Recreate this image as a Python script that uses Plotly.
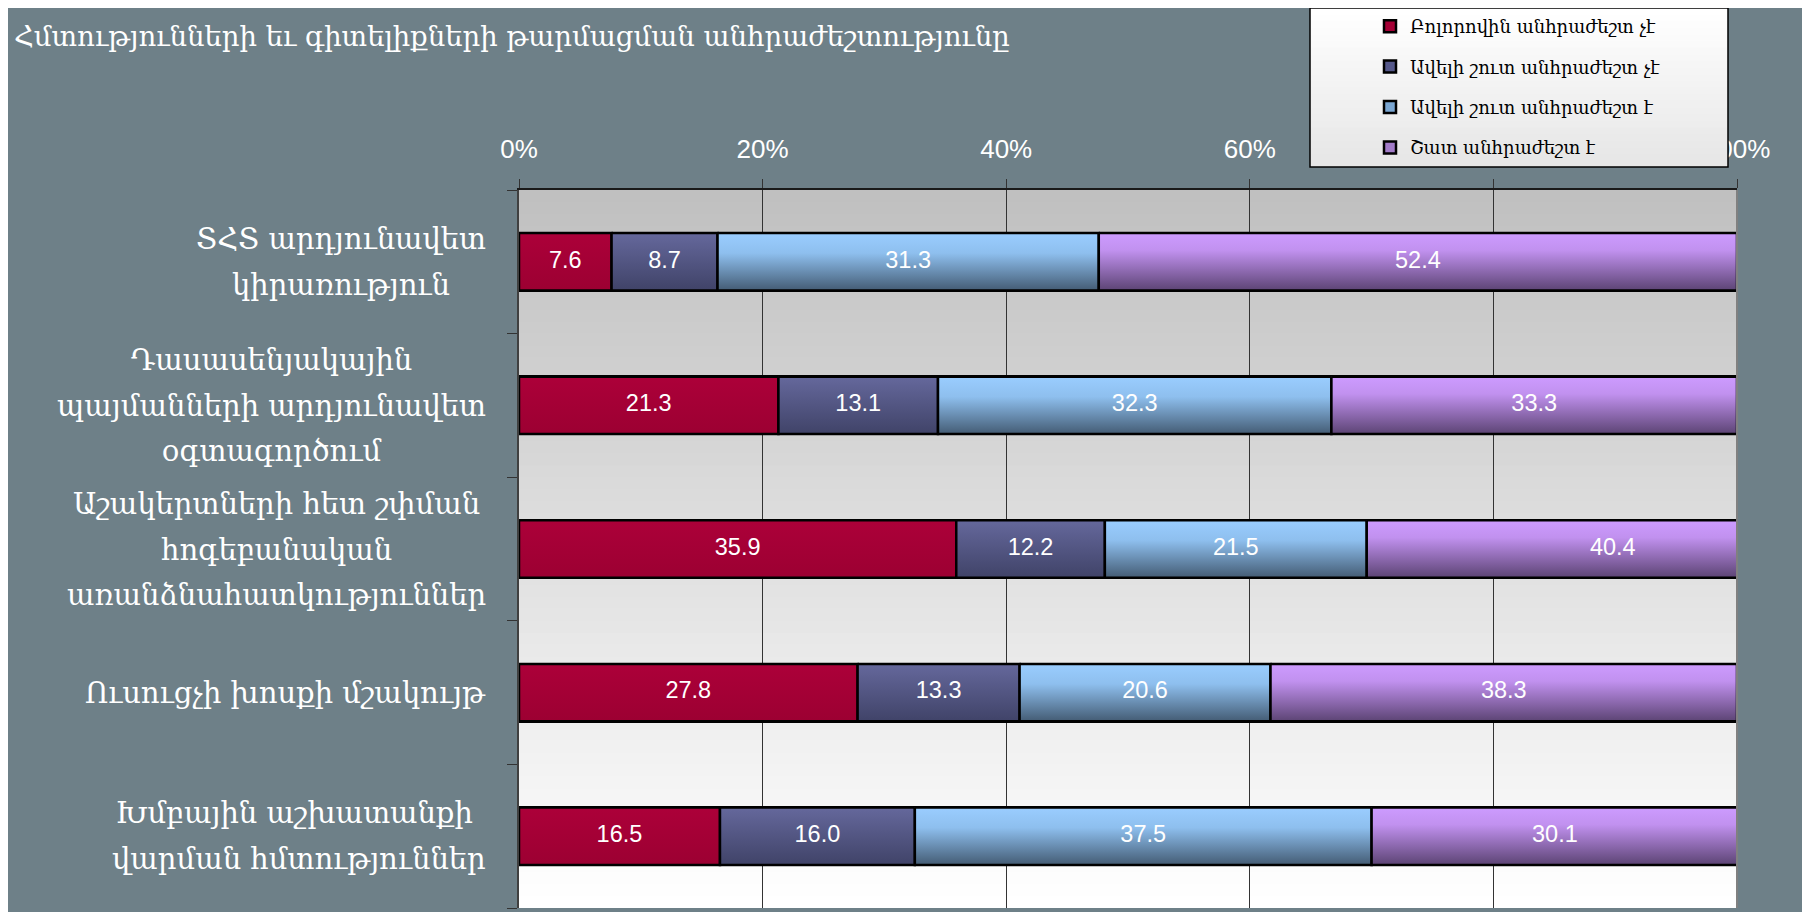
import plotly.graph_objects as go

categories = [
    "ՏՀՏ արդյունավետ<br>կիրառություն",
    "Դասասենյակային<br>պայմանների արդյունավետ<br>օգտագործում",
    "Աշակերտների հետ շփման<br>հոգեբանական<br>առանձնահատկություններ",
    "Ուսուցչի խոսքի մշակույթ",
    "Խմբային աշխատանքի <br>վարման հմտություններ",
]
series_names = [
    "Բոլորովին անհրաժեշտ չէ",
    "Ավելի շուտ անհրաժեշտ չէ",
    "Ավելի շուտ անհրաժեշտ է",
    "Շատ անհրաժեշտ է",
]
not_needed_at_all = [7.6, 21.3, 35.9, 27.8, 16.5]
rather_not_needed = [8.7, 13.1, 12.2, 13.3, 16.0]
rather_needed = [31.3, 32.3, 21.5, 20.6, 37.5]
very_needed = [52.4, 33.3, 40.4, 38.3, 30.1]
series_values = [not_needed_at_all, rather_not_needed, rather_needed, very_needed]
x_tickvals = [0, 20, 40, 60, 80, 100]
x_ticktext = ["0%", "20%", "40%", "60%", "80%", "100%"]
title_text = "Հմտությունների եւ գիտելիքների թարմացման անհրաժեշտությունը"

# solid colours (legend / base bars) and vertical gradients (top -> bottom)
colors = ["#a50035", "#55588a", "#7aa6d2", "#a27bc8"]
gradients = [
    [[0, "#ac0039"], [1, "#9c0032"]],
    [[0, "#65689c"], [1, "#404368"]],
    [[0, "#9acdff"], [0.35, "#8ebfee"], [1, "#445c74"]],
    [[0, "#cd9bff"], [0.3, "#c191ef"], [1, "#5c4474"]],
]

W, H = 1802, 904
ML, MR, MT, MB = 511, 73, 182, 4
PW = W - ML - MR
PH = H - MT - MB
BAR_W = 0.4

positions = list(range(len(categories)))

fig = go.Figure()
for name, vals, col in zip(series_names, series_values, colors):
    fig.add_trace(go.Bar(
        y=positions, x=vals, name=name, orientation="h", width=BAR_W,
        legendgroup=name,
        marker=dict(color=col, line=dict(color="#000000", width=2.5)),
        hovertemplate="%{x:.1f}<extra>" + name + "</extra>",
    ))

# gradient skin of every bar segment, computed from the same data
text_x, text_y, text_s = [], [], []
for s, (name, vals, grad) in enumerate(zip(series_names, series_values, gradients)):
    for i, v in enumerate(vals):
        x0 = sum(series_values[k][i] for k in range(s))
        x1 = x0 + v
        y0, y1 = positions[i] - BAR_W / 2, positions[i] + BAR_W / 2
        fig.add_trace(go.Scatter(
            x=[x0, x1, x1, x0, x0], y=[y0, y0, y1, y1, y0],
            mode="lines", fill="toself",
            fillgradient=dict(type="vertical", colorscale=[[1 - p, c] for p, c in grad][::-1]),
            line=dict(color="#000000", width=2.5),
            showlegend=False, hoverinfo="skip", legendgroup=name,
        ))
        text_x.append((x0 + x1) / 2)
        text_y.append(positions[i])
        text_s.append(f"{v:.1f}")

fig.add_trace(go.Scatter(
    x=text_x, y=text_y, text=text_s, mode="text", textposition="middle center",
    textfont=dict(color="white", size=23.5, family="Liberation Sans, Arial"),
    showlegend=False, hoverinfo="skip",
))

def px2x(px):
    return (px - ML) / PW

def py2y(py):
    return 1 - (py - MT) / PH

shapes = []
# plot-area vertical gradient (grey at top -> white at bottom); strips overlap to avoid seams
N = 60
for i in range(N):
    t = i / (N - 1)
    v = int(round(192 + (255 - 192) * t))
    shapes.append(dict(type="rect", xref="x domain", yref="y domain",
                       x0=0, x1=1, y0=1 - i / N, y1=0,
                       fillcolor=f"rgb({v},{v},{v})", line=dict(width=0), layer="below"))
# legend box with light gradient
LX0, LX1, LY0, LY1 = 1302, 1720, 0, 159
NL = 24
for i in range(NL):
    t = i / (NL - 1)
    v = int(round(255 - (255 - 230) * t))
    shapes.append(dict(type="rect", xref="paper", yref="paper",
                       x0=px2x(LX0), x1=px2x(LX1),
                       y0=py2y(LY0 + (LY1 - LY0) * i / NL), y1=py2y(LY1),
                       fillcolor=f"rgb({v},{v},{v})", line=dict(width=0), layer="above"))
shapes.append(dict(type="rect", xref="paper", yref="paper",
                   x0=px2x(LX0), x1=px2x(LX1), y0=py2y(LY0), y1=py2y(LY1),
                   fillcolor="rgba(0,0,0,0)", line=dict(color="#000000", width=1.5), layer="above"))
# right border of plot area
shapes.append(dict(type="line", xref="x domain", yref="y domain", x0=1, x1=1, y0=0, y1=1,
                   line=dict(color="#808080", width=2), layer="above"))

annotations = []
for p, lab in zip(positions, categories):
    annotations.append(dict(
        xref="paper", yref="y", x=0, y=p, xshift=-31, xanchor="right", yanchor="middle",
        text=f'<span style="font-size:29px">{lab}</span>', align="center", showarrow=False,
        font=dict(color="white", size=35, family="DejaVu Serif"),
    ))

boundaries = [p - 0.5 for p in positions] + [positions[-1] + 0.5]

fig.update_layout(
    width=W, height=H,
    margin=dict(l=ML, r=MR, t=MT, b=MB, autoexpand=False),
    paper_bgcolor="#6e8088",
    plot_bgcolor="#e0e0e0",
    barmode="stack",
    title=dict(text=title_text, xref="container", yref="container",
               x=6 / W, xanchor="left", y=1 - 28 / H, yanchor="middle",
               font=dict(color="white", size=27.5, family="DejaVu Serif")),
    xaxis=dict(side="top", range=[0, 100], tickvals=x_tickvals, ticktext=x_ticktext,
               showgrid=True, gridcolor="#333333", gridwidth=1,
               ticks="outside", ticklen=9, tickcolor="#333333", ticklabelstandoff=11,
               showline=True, linecolor="#1a1a1a", linewidth=2,
               tickfont=dict(color="white", size=26, family="Liberation Sans, Arial"),
               zeroline=False, fixedrange=True, automargin=False),
    yaxis=dict(range=[boundaries[-1], boundaries[0]], tickvals=boundaries,
               showticklabels=False, ticks="outside", ticklen=10, tickcolor="#333333",
               showgrid=False, zeroline=False, automargin=False,
               showline=True, linecolor="#404040", linewidth=2, fixedrange=True),
    legend=dict(xref="container", yref="container", x=1362 / W, xanchor="left",
                y=1, yanchor="top",
                bgcolor="rgba(0,0,0,0)", borderwidth=0, traceorder="grouped",
                tracegroupgap=14, itemwidth=30,
                font=dict(color="#000000", size=18, family="DejaVu Serif")),
    shapes=shapes,
    annotations=annotations,
    showlegend=True,
)

fig.write_html("out.html")
